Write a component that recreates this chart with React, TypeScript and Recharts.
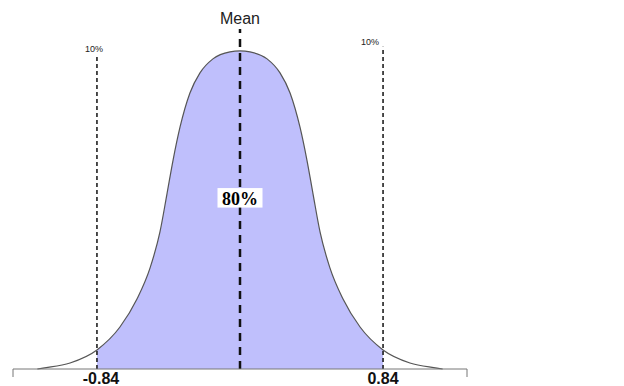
import React from 'react';
import { ComposedChart, Area, Line, XAxis, YAxis, ReferenceLine, ReferenceDot } from 'recharts';

// x positions (in sd-like units) and curve heights (peak = 1)
const X_VALUES = [
  -1.19, -1.157, -0.998, -0.84, -0.705, -0.605, -0.528, -0.47, -0.429, -0.393, -0.352, -0.294, -0.235, -0.159, -0.059,
  0,
  0.059, 0.159, 0.235, 0.294, 0.352, 0.393, 0.429, 0.47, 0.528, 0.605, 0.705, 0.84, 0.998, 1.157, 1.19,
];
const CURVE = [
  0, 0.003, 0.019, 0.06, 0.132, 0.22, 0.318, 0.431, 0.55, 0.657, 0.761, 0.868, 0.931, 0.975, 0.997,
  1.0,
  0.997, 0.975, 0.931, 0.868, 0.761, 0.657, 0.55, 0.431, 0.318, 0.22, 0.132, 0.06, 0.019, 0.003, 0,
];
const CUT = 0.84;
const TICKS = [-1.333, -0.84, 0.84, 1.333];
const TICK_LABELS = ['', '-0.84', '0.84', ''];
const MEAN_LABEL = 'Mean';
const TAIL_LABEL = '10%';
const CENTER_LABEL = '80%';

const data = X_VALUES.map((x, i) => ({
  x,
  curve: CURVE[i],
  band: Math.abs(x) <= CUT ? CURVE[i] : null,
}));

const SANS = 'Liberation Sans, Arial, sans-serif';

function AxisTick(props: any) {
  const { x, y, payload } = props;
  const idx = TICKS.indexOf(payload.value);
  const label = TICK_LABELS[idx];
  if (!label) {
    return <line x1={x} x2={x} y1={y} y2={y + 8} stroke="#777" strokeWidth={1} />;
  }
  return (
    <text x={x + (payload.value < 0 ? 4 : 0)} y={y + 14.5} textAnchor="middle" fontSize={16} fontWeight="bold" fill="#111" fontFamily={SANS}>
      {label}
    </text>
  );
}

function CenterBox(props: any) {
  const { cx, cy } = props;
  return (
    <g>
      <rect x={cx - 22.5} y={cy - 9.5} width={45} height={19.5} fill="#fff" />
      <text x={cx} y={cy + 7.5} textAnchor="middle" fontFamily="Liberation Serif, Times New Roman, serif" fontWeight="bold" fontSize={18} fill="#000">
        {CENTER_LABEL}
      </text>
    </g>
  );
}

const leftTail = (props: any) => {
  const vb = props.viewBox;
  return (
    <text x={vb.x - 3} y={vb.y - 3} textAnchor="middle" fontSize={9} fill="#222" fontFamily={SANS}>
      {TAIL_LABEL}
    </text>
  );
};

const rightTail = (props: any) => {
  const vb = props.viewBox;
  return (
    <text x={vb.x - 4} y={vb.y - 2} textAnchor="end" fontSize={9} fill="#222" fontFamily={SANS}>
      {TAIL_LABEL}
    </text>
  );
};

export default function App() {
  return (
    <div style={{ position: 'absolute', left: 0, top: 0, width: 624, height: 386, background: '#fff' }}>
      <ComposedChart width={624} height={386} data={data} margin={{ top: 29, right: 157, bottom: 0, left: 13 }}>
        <XAxis
          dataKey="x"
          type="number"
          domain={[-1.333, 1.333]}
          ticks={TICKS}
          interval={0}
          tickLine={false}
          tickSize={0}
          tickMargin={0}
          height={17}
          axisLine={{ stroke: '#777', strokeWidth: 1 }}
          tick={<AxisTick />}
        />
        <YAxis hide domain={[0, 1.069]} />
        <Area
          dataKey="band"
          type="monotone"
          fill="#BFBFFC"
          fillOpacity={1}
          stroke="none"
          connectNulls={false}
          isAnimationActive={false}
        />
        <Line dataKey="curve" type="monotone" stroke="#555" strokeWidth={1.2} dot={false} isAnimationActive={false} />
        <ReferenceLine
          x={0}
          stroke="#111"
          strokeWidth={2.5}
          strokeDasharray="8 6"
          label={{ value: MEAN_LABEL, position: 'top', offset: 5, fill: '#222', fontSize: 16, fontFamily: SANS }}
        />
        <ReferenceLine
          segment={[{ x: -CUT, y: 0 }, { x: -CUT, y: 0.987 }]}
          stroke="#111"
          strokeWidth={1.5}
          strokeDasharray="4 3"
          label={leftTail}
        />
        <ReferenceLine
          segment={[{ x: CUT, y: 0 }, { x: CUT, y: 1.013 }]}
          stroke="#111"
          strokeWidth={1.5}
          strokeDasharray="4 3"
          label={rightTail}
        />
        <ReferenceDot x={0} y={0.539} r={0} shape={<CenterBox />} />
      </ComposedChart>
    </div>
  );
}
